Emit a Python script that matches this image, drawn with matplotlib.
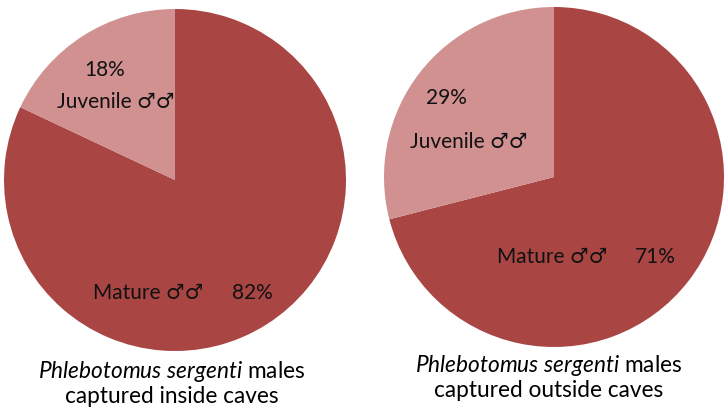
import matplotlib
matplotlib.use("Agg")
import matplotlib.pyplot as plt

plt.rcParams['font.family'] = ['Lato', 'DejaVu Sans']
plt.rcParams['mathtext.fontset'] = 'custom'
plt.rcParams['mathtext.rm'] = 'Lato'
plt.rcParams['mathtext.it'] = 'Lato:italic'

# data
categories = ["Mature \u2642\u2642", "Juvenile \u2642\u2642"]
inside_pct = [82, 18]
outside_pct = [71, 29]
captions = [r"$\it{Phlebotomus\ sergenti}$ males" + "\ncaptured inside caves",
            r"$\it{Phlebotomus\ sergenti}$ males" + "\ncaptured outside caves"]

colors = ["#A94644", "#D09190"]
W, H = 728, 412
fs = 15
cap_fs = 16.3

fig = plt.figure(figsize=(W / 100, H / 100), dpi=100)


def pie_panel(cx, cy, r, values, pct_pos, name_pos, cap_xy, caption):
    ax = fig.add_axes([(cx - r) / W, (H - cy - r) / H, 2 * r / W, 2 * r / H])
    ax.pie(values, colors=colors, startangle=90, counterclock=False,
           radius=1, wedgeprops=dict(linewidth=0))
    ax.set_xlim(-1, 1)
    ax.set_ylim(-1, 1)
    ax.set_aspect('auto')
    ax.axis('off')
    for i, v in enumerate(values):
        fig.text(pct_pos[i][0] / W, 1 - pct_pos[i][1] / H, f"{v}%",
                 ha='center', va='center', fontsize=fs, color='#111111')
        fig.text(name_pos[i][0] / W, 1 - name_pos[i][1] / H, categories[i],
                 ha='center', va='center', fontsize=fs, color='#111111')
    fig.text(cap_xy[0] / W, 1 - cap_xy[1] / H, caption, ha='center', va='center',
             fontsize=cap_fs, linespacing=1.15, color='black')


pie_panel(175, 180, 171, inside_pct,
          pct_pos=[(252, 293), (105, 70)],
          name_pos=[(148, 293), (116, 102)],
          cap_xy=(172, 383), caption=captions[0])

pie_panel(554, 177, 170, outside_pct,
          pct_pos=[(655, 257), (446, 98)],
          name_pos=[(552, 257), (469, 142)],
          cap_xy=(549, 377), caption=captions[1])

fig.savefig("out.png", dpi=100, facecolor='white')
